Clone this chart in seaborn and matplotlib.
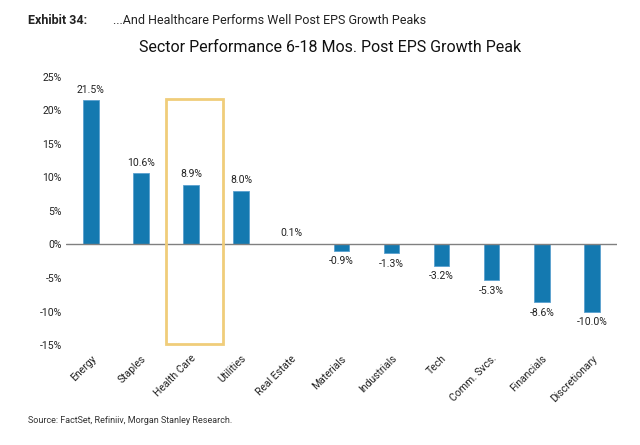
import matplotlib
matplotlib.use("Agg")
import matplotlib.pyplot as plt
import seaborn as sns
import pandas as pd
from matplotlib.patches import Rectangle

# data
sectors = ['Energy', 'Staples', 'Health Care', 'Utilities', 'Real Estate', 'Materials',
           'Industrials', 'Tech', 'Comm. Svcs.', 'Financials', 'Discretionary']
perf = [21.5, 10.6, 8.9, 8.0, 0.1, -0.9, -1.3, -3.2, -5.3, -8.6, -10.0]
yticks = [25, 20, 15, 10, 5, 0, -5, -10, -15]

df = pd.DataFrame({'sector': sectors, 'perf': perf})

sns.set_theme(style="white")
plt.rcParams['font.family'] = ['Roboto', 'DejaVu Sans']

fig = plt.figure(figsize=(6.4, 4.45), dpi=100)
ax = fig.add_axes([0.103, 0.2247, 0.861, 0.6023])

bar_color = '#1479b0'
sns.barplot(data=df, x='sector', y='perf', color=bar_color, width=0.31,
            saturation=1, ax=ax, edgecolor='#5aa0cf', linewidth=0.6)

ax.set_xlim(-0.5, 10.5)
ax.set_ylim(-15, 25)
ax.set_yticks(yticks)
ax.set_yticklabels([f'{t}%' for t in yticks], fontsize=7.5, color='#222222')
ax.set_xlabel('')
ax.set_ylabel('')
ax.set_xticks(range(len(sectors)))
ax.set_xticklabels(sectors, rotation=45, ha='right', va='top', rotation_mode='anchor',
                   fontsize=7.5, color='#222222')
ax.tick_params(axis='both', length=0, pad=3)
ax.tick_params(axis='x', pad=6)
for s in ax.spines.values():
    s.set_visible(False)

# zero line
ax.axhline(0, color='#808080', lw=1.0, zorder=3)

# value labels
for i, v in enumerate(perf):
    if v >= 0:
        ax.annotate(f'{v:.1f}%', (i, v), xytext=(0, 4), textcoords='offset points',
                    ha='center', va='bottom', fontsize=7.5, color='#222222')
    else:
        ax.annotate(f'{v:.1f}%', (i, v), xytext=(0, -4), textcoords='offset points',
                    ha='center', va='top', fontsize=7.5, color='#222222')

# highlight box around health care
ax.add_patch(Rectangle((1.494, -14.9), 1.132, 36.6, fill=False,
                       edgecolor='#f0cd7a', lw=2.0, zorder=4, clip_on=False))

fig.text(0.044, 0.955, 'Exhibit 34:', fontsize=9, fontweight='bold', va='center', color='#222222')
fig.text(0.177, 0.955, '...And Healthcare Performs Well Post EPS Growth Peaks',
         fontsize=9, va='center', color='#222222')
fig.text(0.515, 0.893, 'Sector Performance 6-18 Mos. Post EPS Growth Peak',
         fontsize=11.5, ha='center', va='center', color='#111111')
fig.text(0.044, 0.056, 'Source: FactSet, Refiniiv, Morgan Stanley Research.',
         fontsize=6.5, va='center', color='#333333')

fig.savefig('out.png', dpi=100)
